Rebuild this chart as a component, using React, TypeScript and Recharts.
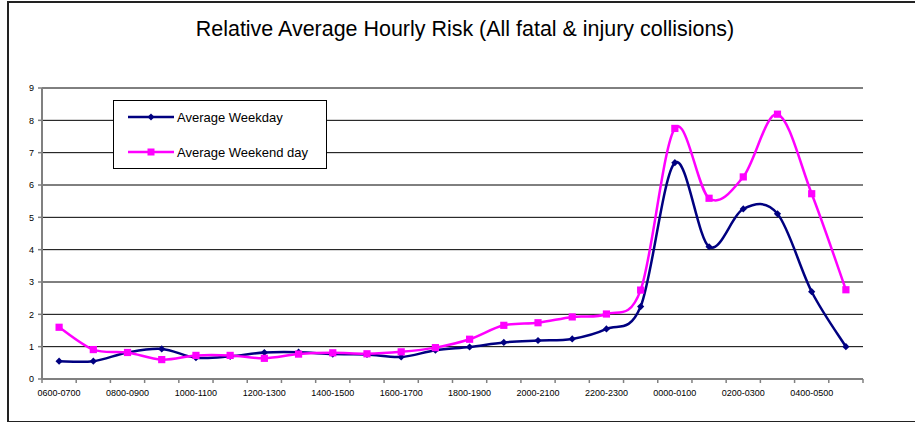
import { CartesianGrid, Line, LineChart, XAxis, YAxis } from 'recharts';

const hours = [
  '0600-0700', '0700-0800', '0800-0900', '0900-1000', '1000-1100', '1100-1200',
  '1200-1300', '1300-1400', '1400-1500', '1500-1600', '1600-1700', '1700-1800',
  '1800-1900', '1900-2000', '2000-2100', '2100-2200', '2200-2300', '2300-0000',
  '0000-0100', '0100-0200', '0200-0300', '0300-0400', '0400-0500', '0500-0600',
];

const weekday = [
  0.55, 0.55, 0.82, 0.93, 0.66, 0.70, 0.82, 0.83, 0.77, 0.76, 0.68, 0.89,
  0.99, 1.13, 1.19, 1.24, 1.55, 2.24, 6.69, 4.09, 5.26, 5.11, 2.70, 1.00,
];

const weekend = [
  1.60, 0.91, 0.82, 0.60, 0.73, 0.73, 0.64, 0.77, 0.81, 0.78, 0.84, 0.97,
  1.23, 1.66, 1.74, 1.92, 2.01, 2.75, 7.75, 5.59, 6.25, 8.19, 5.73, 2.76,
];

const yTicks = [0, 1, 2, 3, 4, 5, 6, 7, 8, 9];

const seriesNames = ['Average Weekday', 'Average Weekend day'];

const NAVY = '#000080';
const PINK = '#FF00FF';

// each category sits between two integer boundaries, like Excel's "between tick marks"
const data = hours.map((h, i) => ({
  x: i + 0.5,
  label: h,
  weekday: weekday[i],
  weekend: weekend[i],
}));

const xTicks: number[] = [];
for (let i = 0; i <= hours.length * 2; i++) xTicks.push(i / 2);

// Excel-style smoothed line (Catmull-Rom through the points)
const excelSmooth = (context: any) => {
  let pts: number[][] = [];
  return {
    areaStart() {},
    areaEnd() {},
    lineStart() {
      pts = [];
    },
    point(x: number, y: number) {
      pts.push([+x, +y]);
    },
    lineEnd() {
      if (!pts.length) return;
      context.moveTo(pts[0][0], pts[0][1]);
      for (let i = 0; i < pts.length - 1; i++) {
        const p0 = pts[i - 1] || pts[i];
        const p1 = pts[i];
        const p2 = pts[i + 1];
        const p3 = pts[i + 2] || p2;
        context.bezierCurveTo(
          p1[0] + (p2[0] - p0[0]) / 6, p1[1] + (p2[1] - p0[1]) / 6,
          p2[0] - (p3[0] - p1[0]) / 6, p2[1] - (p3[1] - p1[1]) / 6,
          p2[0], p2[1],
        );
      }
    },
  };
};

const Diamond = (props: any) => {
  const { cx, cy, index } = props;
  if (cx == null || cy == null) return <g key={`wd-${index}`} />;
  const r = 3.6;
  return (
    <polygon
      key={`wd-${index}`}
      points={`${cx},${cy - r} ${cx + r},${cy} ${cx},${cy + r} ${cx - r},${cy}`}
      fill={NAVY}
    />
  );
};

const Square = (props: any) => {
  const { cx, cy, index } = props;
  if (cx == null || cy == null) return <g key={`we-${index}`} />;
  const s = 3.6;
  return <rect key={`we-${index}`} x={cx - s} y={cy - s} width={s * 2} height={s * 2} fill={PINK} />;
};

const XTick = (props: any) => {
  const { x, y, payload } = props;
  const v = payload.value;
  if (Number.isInteger(v)) {
    return <line x1={x} x2={x} y1={y} y2={y + 4} stroke="#808080" strokeWidth={1.5} />;
  }
  const idx = Math.floor(v);
  if (idx % 2 !== 0) return <g />;
  return (
    <text x={x} y={y + 17} textAnchor="middle" fontSize={9} fill="#000" fontFamily="Liberation Sans, Arial, sans-serif">
      {hours[idx]}
    </text>
  );
};

const LegendBox = () => (
  <div
    style={{
      position: 'absolute',
      left: 113,
      top: 100,
      width: 212,
      height: 67,
      border: '1px solid #000',
      background: '#fff',
      fontFamily: 'Liberation Sans, Arial, sans-serif',
      fontSize: 13,
    }}
  >
    {seriesNames.map((name, i) => (
      <div key={name} style={{ position: 'absolute', left: 13, top: i === 0 ? 7 : 42, display: 'flex', alignItems: 'center' }}>
        <svg width={48} height={18}>
          <line x1={1} x2={47} y1={9} y2={9} stroke={i === 0 ? NAVY : PINK} strokeWidth={2.5} />
          {i === 0 ? (
            <polygon points="24,5.5 27.5,9 24,12.5 20.5,9" fill={NAVY} />
          ) : (
            <rect x={20.5} y={5.5} width={7} height={7} fill={PINK} />
          )}
        </svg>
        <span style={{ marginLeft: 2, color: '#000' }}>{name}</span>
      </div>
    ))}
  </div>
);

export default function App() {
  return (
    <div style={{ position: 'absolute', left: 0, top: 0, width: 915, height: 422, overflow: 'hidden', background: '#fff' }}>
      <div
        style={{
          position: 'absolute',
          left: 7,
          top: 1,
          width: 940,
          height: 418,
          border: '2px solid #222',
        }}
      />
      <div
        style={{
          position: 'absolute',
          left: 0,
          top: 16,
          width: 930,
          textAlign: 'center',
          fontFamily: 'Liberation Sans, Arial, sans-serif',
          fontSize: 22,
          color: '#000',
          transform: 'scaleX(0.975)',
        }}
      >
        Relative Average Hourly Risk (All fatal &amp; injury collisions)
      </div>
      <div style={{ position: 'absolute', left: 0, top: 0 }}>
        <LineChart width={915} height={422} data={data} margin={{ top: 88, right: 52, left: 0, bottom: 19 }}>
          <CartesianGrid horizontal vertical={false} stroke="#000" strokeOpacity={1} />
          <XAxis
            dataKey="x"
            type="number"
            domain={[0, hours.length]}
            ticks={xTicks}
            interval={0}
            tick={<XTick />}
            tickLine={false}
            tickSize={0}
            tickMargin={0}
            height={24}
            axisLine={{ stroke: '#808080', strokeWidth: 2 }}
          />
          <YAxis
            domain={[0, 9]}
            ticks={yTicks}
            interval={0}
            width={42}
            tickSize={4}
            tickMargin={4}
            tick={{ fontSize: 9, fill: '#000', fontFamily: 'Liberation Sans, Arial, sans-serif' }}
            tickLine={{ stroke: '#808080', strokeWidth: 1.5 }}
            axisLine={{ stroke: '#808080', strokeWidth: 2 }}
          />
          <Line
            dataKey="weekday"
            name={seriesNames[0]}
            type={excelSmooth as any}
            stroke={NAVY}
            strokeWidth={2.5}
            dot={(p: any) => <Diamond {...p} />}
            isAnimationActive={false}
          />
          <Line
            dataKey="weekend"
            name={seriesNames[1]}
            type={excelSmooth as any}
            stroke={PINK}
            strokeWidth={2.5}
            dot={(p: any) => <Square {...p} />}
            isAnimationActive={false}
          />
        </LineChart>
      </div>
      <LegendBox />
    </div>
  );
}
